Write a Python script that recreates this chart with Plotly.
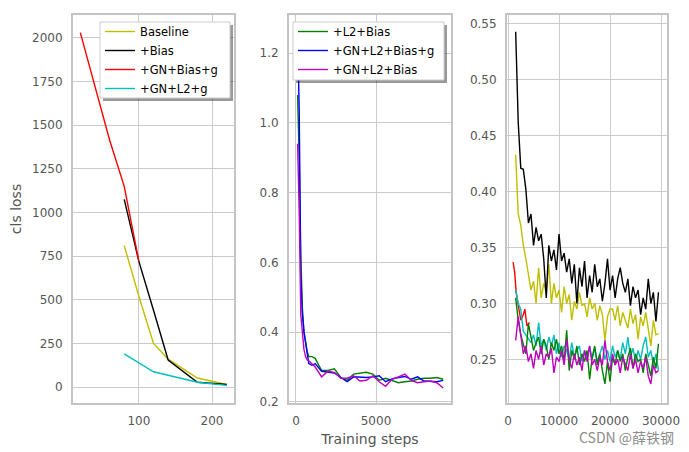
import plotly.graph_objects as go

# ---------------- data ----------------
# Left panel (cls loss at early steps)
left_x_late = [80, 100, 120, 140, 180, 220]
baseline_left = [810, 520, 250, 160, 52, 15]
bias_left = [1075, 720, 440, 155, 28, 15]
gn_bias_g_left_x = [20, 40, 60, 80, 100]
gn_bias_g_left = [2030, 1720, 1415, 1150, 720]
gn_l2_g_left_x = [80, 120, 180, 220]
gn_l2_g_left = [190, 88, 28, 10]

# Middle panel
mid_x = [100, 200, 300, 400, 500, 600, 700, 800, 1000, 1200, 1600, 2000, 2400, 2800,
         3200, 3600, 4000, 4400, 4800, 5200, 5600, 6000, 6400, 6800, 7200, 7600,
         8000, 8400, 8800, 9200]
l2_bias_mid = [1.08, 0.90, 0.62, 0.47, 0.40, 0.365, 0.345, 0.33, 0.33, 0.325, 0.29, 0.29,
               0.295, 0.27, 0.262, 0.28, 0.283, 0.285, 0.28, 0.262, 0.268, 0.262, 0.255,
               0.258, 0.26, 0.265, 0.268, 0.268, 0.27, 0.265]
gn_l2_bias_g_mid = [1.258, 1.04, 0.56, 0.45, 0.40, 0.365, 0.34, 0.31, 0.305, 0.31, 0.288,
                    0.285, 0.283, 0.27, 0.258, 0.272, 0.27, 0.27, 0.272, 0.275, 0.258,
                    0.266, 0.27, 0.273, 0.265, 0.272, 0.26, 0.258, 0.258, 0.262]
gn_l2_bias_mid = [0.94, 0.75, 0.45, 0.39, 0.35, 0.33, 0.32, 0.318, 0.31, 0.30, 0.272,
                  0.288, 0.285, 0.268, 0.268, 0.275, 0.26, 0.262, 0.275, 0.258, 0.245,
                  0.265, 0.272, 0.28, 0.262, 0.255, 0.258, 0.26, 0.255, 0.24]

# Right panel
right_x = list(range(1500, 30000, 500))
bias_right = [0.543, 0.462, 0.421, 0.420, 0.402, 0.372, 0.380, 0.352, 0.368, 0.356,
              0.362, 0.340, 0.305, 0.352, 0.338, 0.348, 0.330, 0.362, 0.338, 0.345,
              0.328, 0.340, 0.318, 0.335, 0.300, 0.332, 0.315, 0.338, 0.305, 0.325,
              0.310, 0.335, 0.315, 0.322, 0.302, 0.318, 0.340, 0.312, 0.325, 0.305,
              0.322, 0.332, 0.318, 0.310, 0.322, 0.298, 0.315, 0.305, 0.312, 0.290,
              0.305, 0.295, 0.322, 0.300, 0.310, 0.284, 0.310]
baseline_right = [0.433, 0.380, 0.370, 0.352, 0.340, 0.325, 0.312, 0.320, 0.300, 0.332,
                  0.305, 0.318, 0.310, 0.335, 0.300, 0.318, 0.305, 0.312, 0.292, 0.315,
                  0.300, 0.308, 0.285, 0.302, 0.295, 0.310, 0.298, 0.300, 0.288, 0.305,
                  0.295, 0.300, 0.285, 0.298, 0.290, 0.267, 0.288, 0.295, 0.295, 0.285,
                  0.298, 0.280, 0.292, 0.285, 0.278, 0.295, 0.282, 0.290, 0.268, 0.288,
                  0.280, 0.292, 0.275, 0.262, 0.285, 0.272, 0.273]
gn_bias_g_right_x = [1000, 1300, 1600, 2000, 2500, 3000, 3300, 3700, 4200]
gn_bias_g_right = [0.337, 0.328, 0.310, 0.300, 0.285, 0.290, 0.295, 0.280, 0.283]
gn_l2_g_right = [0.312, 0.300, 0.295, 0.275, 0.272, 0.268, 0.265, 0.272, 0.262, 0.283,
                 0.262, 0.268, 0.258, 0.270, 0.262, 0.272, 0.255, 0.265, 0.252, 0.262,
                 0.258, 0.250, 0.265, 0.252, 0.258, 0.262, 0.248, 0.258, 0.252, 0.262,
                 0.250, 0.260, 0.248, 0.255, 0.262, 0.250, 0.258, 0.248, 0.262, 0.252,
                 0.258, 0.250, 0.265, 0.255, 0.270, 0.252, 0.260, 0.248, 0.258, 0.250,
                 0.262, 0.270, 0.252, 0.258, 0.245, 0.255, 0.240]
l2_bias_right = [0.305, 0.285, 0.272, 0.262, 0.255, 0.282, 0.268, 0.258, 0.265, 0.270,
                 0.255, 0.268, 0.262, 0.250, 0.265, 0.258, 0.268, 0.255, 0.262, 0.248,
                 0.276, 0.240, 0.258, 0.250, 0.262, 0.245, 0.255, 0.248, 0.258, 0.232,
                 0.252, 0.262, 0.245, 0.255, 0.240, 0.228, 0.248, 0.230, 0.252, 0.245,
                 0.258, 0.248, 0.255, 0.240, 0.252, 0.260, 0.242, 0.255, 0.248, 0.250,
                 0.238, 0.255, 0.245, 0.235, 0.252, 0.242, 0.264]
gn_l2_bias_right = [0.267, 0.288, 0.272, 0.255, 0.262, 0.248, 0.255, 0.242, 0.258, 0.250,
                    0.262, 0.245, 0.255, 0.252, 0.260, 0.238, 0.252, 0.248, 0.258, 0.245,
                    0.268, 0.250, 0.242, 0.255, 0.245, 0.252, 0.240, 0.258, 0.248, 0.262,
                    0.245, 0.250, 0.240, 0.252, 0.245, 0.267, 0.248, 0.240, 0.255, 0.245,
                    0.250, 0.238, 0.252, 0.245, 0.240, 0.255, 0.242, 0.250, 0.238, 0.248,
                    0.242, 0.252, 0.235, 0.228, 0.245, 0.238, 0.240]

C_Y = "#bfbf00"
C_K = "#000000"
C_R = "#ff0000"
C_C = "#00bfbf"
C_G = "#008000"
C_B = "#0000ff"
C_M = "#bf00bf"
LW = 1.4

fig = go.Figure()

def add(x, y, color, name, ax, legend=None, show=False):
    fig.add_trace(go.Scatter(
        x=x, y=y, mode="lines", name=name,
        line=dict(color=color, width=LW),
        xaxis="x" + ax, yaxis="y" + ax,
        showlegend=show, legend=legend if legend else "legend",
        hoverinfo="skip"))

# left
add(left_x_late, baseline_left, C_Y, "Baseline", "", "legend", True)
add(left_x_late, bias_left, C_K, "+Bias", "", "legend", True)
add(gn_bias_g_left_x, gn_bias_g_left, C_R, "+GN+Bias+g", "", "legend", True)
add(gn_l2_g_left_x, gn_l2_g_left, C_C, "+GN+L2+g", "", "legend", True)
# middle
add(mid_x, l2_bias_mid, C_G, "+L2+Bias", "2", "legend2", True)
add(mid_x, gn_l2_bias_g_mid, C_B, "+GN+L2+Bias+g", "2", "legend2", True)
add(mid_x, gn_l2_bias_mid, C_M, "+GN+L2+Bias", "2", "legend2", True)
# right
add(right_x, baseline_right, C_Y, "Baseline", "3")
add(right_x, bias_right, C_K, "+Bias", "3")
add(gn_bias_g_right_x, gn_bias_g_right, C_R, "+GN+Bias+g", "3")
add(right_x, gn_l2_g_right, C_C, "+GN+L2+g", "3")
add(right_x, l2_bias_right, C_G, "+L2+Bias", "3")
add(right_x, gn_l2_bias_right, C_M, "+GN+L2+Bias", "3")

W, H = 689, 452
OFF = 8  # page body margin: the figure is drawn 8px right/down of the window corner
def px(x):
    return (x - OFF) / W
def py(y):
    return 1 - (y - OFF) / H

FONT = "DejaVu Sans"
TICKC = "#555555"
GRID = "#cbcbcb"
BORDER = "#c4c4c4"

def axis_common():
    return dict(showgrid=True, gridcolor=GRID, gridwidth=1.2, zeroline=False,
                showline=True, linecolor=BORDER, linewidth=2, mirror=True,
                ticks="outside", ticklen=6, tickcolor="rgba(0,0,0,0)",
                automargin=False,
                tickfont=dict(family=FONT, size=12, color=TICKC))

ydom = [py(403), py(15)]

LEG_FONT = dict(family=FONT, size=11.5, color="#000000")

fig.update_layout(
    width=W, height=H,
    margin=dict(l=0, r=0, t=0, b=0, autoexpand=False),
    paper_bgcolor="white", plot_bgcolor="white",
    font=dict(family=FONT, size=12, color="#000000"),
    xaxis=dict(domain=[px(73), px(234)], range=[10, 230], dtick=100, tick0=0,
               anchor="y", **axis_common()),
    yaxis=dict(domain=ydom, range=[-91, 2131], dtick=250, tick0=0, anchor="x",
               title=dict(text="cls loss", font=dict(family=FONT, size=14, color=TICKC),
                          standoff=8),
               **axis_common()),
    xaxis2=dict(domain=[px(289), px(451)], range=[-437, 9687], dtick=5000, tick0=0,
                anchor="y2",
                title=dict(text="Training steps", font=dict(family=FONT, size=14, color=TICKC),
                           standoff=7),
                **axis_common()),
    yaxis2=dict(domain=ydom, range=[0.197, 1.309], dtick=0.2, tick0=0, tickformat=".1f",
                anchor="x2", **axis_common()),
    xaxis3=dict(domain=[px(507), px(667)], range=[-200, 31170], dtick=10000, tick0=0,
                tickformat="d", anchor="y3", **axis_common()),
    yaxis3=dict(domain=ydom, range=[0.211, 0.558], dtick=0.05, tick0=0, tickformat=".2f",
                anchor="x3", **axis_common()),
    legend=dict(x=px(100), y=py(17), xanchor="left", yanchor="top",
                bgcolor="rgba(0,0,0,0)", borderwidth=0,
                font=LEG_FONT, tracegroupgap=0, itemwidth=30),
    legend2=dict(x=px(293), y=py(17), xanchor="left", yanchor="top",
                 bgcolor="rgba(0,0,0,0)", borderwidth=0,
                 font=LEG_FONT, tracegroupgap=0, itemwidth=30),
    showlegend=True,
)

# legend frames with shadows
for (x0, y0, x1, y1) in [(100, 22, 230, 98), (293, 22, 444, 80)]:
    fig.add_shape(type="rect", xref="paper", yref="paper",
                  x0=px(x0 + 3), x1=px(x1 + 3), y0=py(y1 + 3), y1=py(y0 + 3),
                  fillcolor="rgba(0,0,0,0.4)", line=dict(width=0), layer="above")
    fig.add_shape(type="rect", xref="paper", yref="paper",
                  x0=px(x0), x1=px(x1), y0=py(y1), y1=py(y0),
                  fillcolor="white", line=dict(width=1, color="#cccccc"), layer="above")

fig.add_annotation(text="CSDN @薛铁钢", xref="paper", yref="paper",
                   x=px(676), y=py(437), xanchor="right", yanchor="middle",
                   showarrow=False,
                   font=dict(family="Noto Sans CJK SC", size=14, color="#8c8c8c"))

fig.write_html("out.html")
